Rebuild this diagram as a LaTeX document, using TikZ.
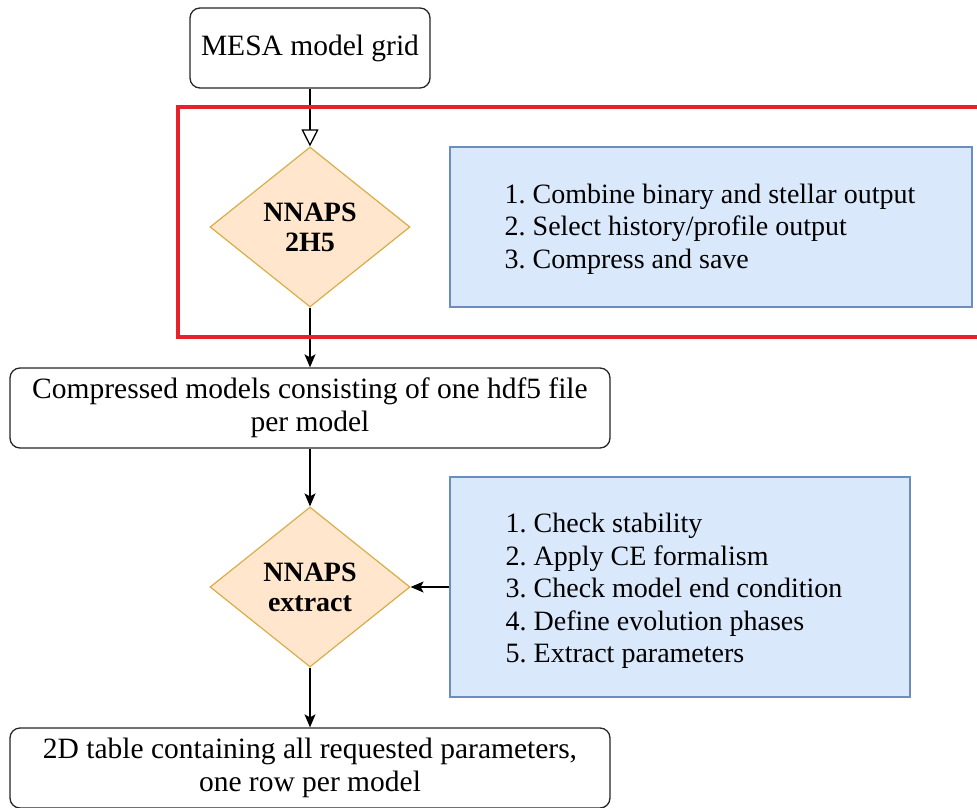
\documentclass[tikz,border=0pt]{standalone}
\usepackage{fontspec}
\setmainfont{Liberation Serif}
\usetikzlibrary{shapes.geometric,arrows.meta}
\definecolor{dfill}{HTML}{FFE6CC}
\definecolor{dline}{HTML}{D9AE4A}
\definecolor{bfill}{HTML}{DAE8FC}
\definecolor{bline}{HTML}{6C8EBF}
\definecolor{redline}{HTML}{E8202A}
\begin{document}
\frenchspacing
\begin{tikzpicture}[x=1pt,y=-1pt,
  every node/.style={font=\fontsize{29.5}{33}\selectfont},
  rbox/.style={draw=black!85, line width=1.3pt, rounded corners=10pt, fill=white, align=center, inner sep=0pt},
  dec/.style={diamond, draw=dline, fill=dfill, line width=1.2pt, minimum width=200pt, minimum height=160pt, inner sep=0pt, align=center, font=\fontsize{28}{30}\selectfont\bfseries},
  note/.style={draw=bline, fill=bfill, line width=1.2pt, inner sep=0pt},
  notetext/.style={align=left, inner sep=0pt, font=\fontsize{28}{32.4}\selectfont},
  conn/.style={line width=1.3pt, -{Stealth[length=13pt,width=11pt,inset=3pt]}},
  openconn/.style={line width=1.3pt, -{Triangle[open,length=17pt,width=17pt,fill=white]}}
]
\useasboundingbox (0,0) rectangle (977,808);
\node[rbox, minimum width=240pt, minimum height=80pt] (mesa) at (310,48) {MESA model grid};
\node[dec] (d1) at (310,227) {NNAPS\\2H5};
\node[note, minimum width=522pt, minimum height=160pt] (n1) at (711,227) {};
\node[notetext] (n1t) at (710,229) {1. Combine binary and stellar output\\2. Select history/profile output\\3. Compress and save};
\node[rbox, minimum width=600pt, minimum height=80pt] (comp) at (310,408) {Compressed models consisting of one hdf5 file\\per model};
\node[dec] (d2) at (310,587) {NNAPS\\extract};
\node[note, minimum width=460pt, minimum height=220pt] (n2) at (680,587) {};
\node[notetext] (n2t) at (674,591) {1. Check stability\\2. Apply CE formalism\\3. Check model end condition\\4. Define evolution phases\\5. Extract parameters};
\node[rbox, minimum width=600pt, minimum height=80pt] (tab) at (310,768) {2D table containing all requested parameters,\\one row per model};
\draw[openconn] (mesa.south) -- (d1.north);
\draw[conn] (d1.south) -- (comp.north);
\draw[conn] (comp.south) -- (d2.north);
\draw[conn] (n2.west) -- (d2.east);
\draw[conn] (d2.south) -- (tab.north);
\draw[redline, line width=4pt] (990,107) -- (178,107) -- (178,337) -- (990,337);
\end{tikzpicture}
\end{document}
